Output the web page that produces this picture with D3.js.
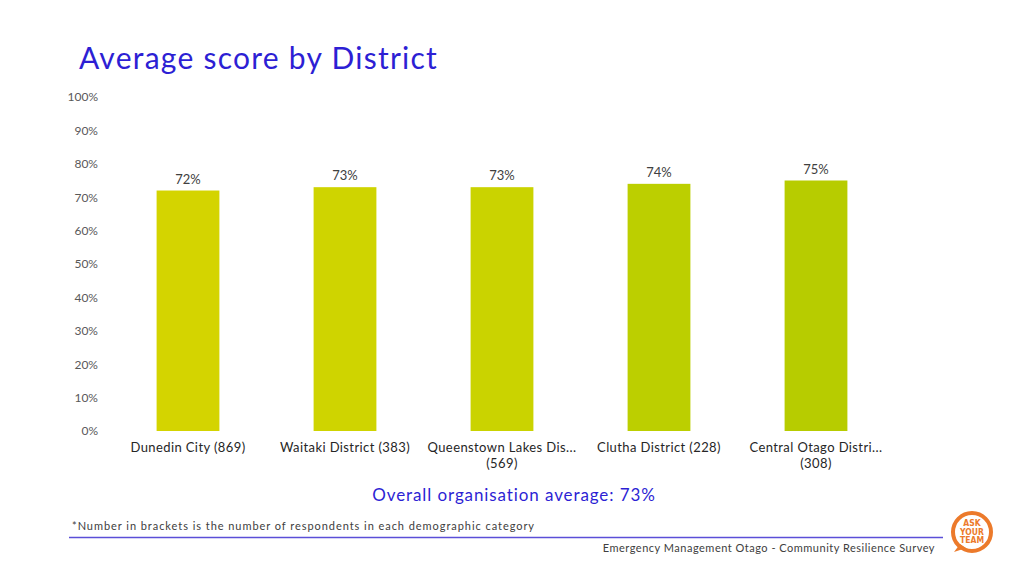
<!DOCTYPE html>
<html><head><meta charset="utf-8">
<script src="https://cdn.jsdelivr.net/npm/d3@7"></script>
<style>
html,body{margin:0;padding:0;background:#fff;}
svg{display:block;font-family:"Lato","Open Sans",sans-serif;}
</style></head>
<body>
<svg id="chart" width="1024" height="576"></svg>
<script>
const categories = ["Dunedin City (869)", "Waitaki District (383)", "Queenstown Lakes Dis... (569)", "Clutha District (228)", "Central Otago Distri... (308)"];
const categoryLines = [["Dunedin City (869)"], ["Waitaki District (383)"], ["Queenstown Lakes Dis...", "(569)"], ["Clutha District (228)"], ["Central Otago Distri...", "(308)"]];
const values = [72, 73, 73, 74, 75];
const barColors = ["#d4d400", "#cfd400", "#cad300", "#bccf00", "#b7cc00"];
const yTicks = [0, 10, 20, 30, 40, 50, 60, 70, 80, 90, 100];
const overallAverage = 73;

const svg = d3.select("#chart");
const blue = "#2d1fd4";

const x = d3.scaleBand().domain(categories).range([109.5, 894.5]).paddingInner(0.6).paddingOuter(0.3);
const y = d3.scaleLinear().domain([0, 100]).range([431, 97]);

// title
svg.append("text").attr("x", 79).attr("y", 69).attr("fill", blue)
  .attr("font-size", 30).attr("letter-spacing", 1.25).text("Average score by District");

// y axis
const yAxis = d3.axisLeft(y).tickValues(yTicks).tickFormat(d => d + "%").tickSize(0).tickPadding(0);
const gy = svg.append("g").attr("transform", "translate(98,0)").call(yAxis);
gy.select(".domain").remove();
gy.selectAll("text").attr("fill", "#595959").attr("font-size", 12).attr("font-family", "Lato, sans-serif");

// bars
svg.append("g").selectAll("rect").data(values).join("rect")
  .attr("x", (d, i) => x(categories[i]))
  .attr("y", d => y(d))
  .attr("width", x.bandwidth())
  .attr("height", d => y(0) - y(d))
  .attr("fill", (d, i) => barColors[i]);

// value labels
svg.append("g").selectAll("text").data(values).join("text")
  .attr("x", (d, i) => x(categories[i]) + x.bandwidth() / 2)
  .attr("y", d => y(d) - 7)
  .attr("text-anchor", "middle").attr("fill", "#404040").attr("font-size", 13)
  .text(d => d + "%");

// x labels
const xl = svg.append("g").selectAll("text").data(categories).join("text")
  .attr("x", d => x(d) + x.bandwidth() / 2)
  .attr("y", 452)
  .attr("text-anchor", "middle").attr("fill", "#262626").attr("font-size", 13).attr("letter-spacing", 0.4);
xl.each(function(d, i) {
  const t = d3.select(this);
  categoryLines[i].forEach((line, j) => {
    t.append("tspan").attr("x", x(d) + x.bandwidth() / 2).attr("dy", j === 0 ? 0 : 16).text(line);
  });
});

// overall average
svg.append("text").attr("x", 514).attr("y", 501).attr("text-anchor", "middle")
  .attr("fill", blue).attr("font-size", 17).attr("letter-spacing", 0.9)
  .text("Overall organisation average: " + overallAverage + "%");

// footnote
svg.append("text").attr("x", 72).attr("y", 530).attr("fill", "#404040").attr("font-size", 11)
  .attr("letter-spacing", 0.95)
  .text("*Number in brackets is the number of respondents in each demographic category");

svg.append("line").attr("x1", 69).attr("x2", 943).attr("y1", 537.5).attr("y2", 537.5)
  .attr("stroke", "#5b4fd8").attr("stroke-width", 1.5);

svg.append("text").attr("x", 935).attr("y", 552).attr("text-anchor", "end").attr("fill", "#404040")
  .attr("font-size", 11).attr("letter-spacing", 0.5)
  .text("Emergency Management Otago - Community Resilience Survey");

// logo
const logo = svg.append("g").attr("transform", "translate(972,532)");
logo.append("circle").attr("r", 19).attr("fill", "none").attr("stroke", "#ec7a2b").attr("stroke-width", 4);
logo.append("path").attr("d", "M-12,12 L-18,20 L-6,16 Z").attr("fill", "#ec7a2b");
["ASK", "YOUR", "TEAM"].forEach((w, i) => {
  logo.append("text").attr("x", 0).attr("y", -6 + i * 8.5).attr("text-anchor", "middle")
    .attr("font-size", 8.5).attr("font-weight", "bold").attr("fill", "#ec7a2b")
    .attr("font-family", "'DejaVu Sans Condensed', 'Liberation Sans Narrow', sans-serif").text(w);
});
</script>
</body></html>
